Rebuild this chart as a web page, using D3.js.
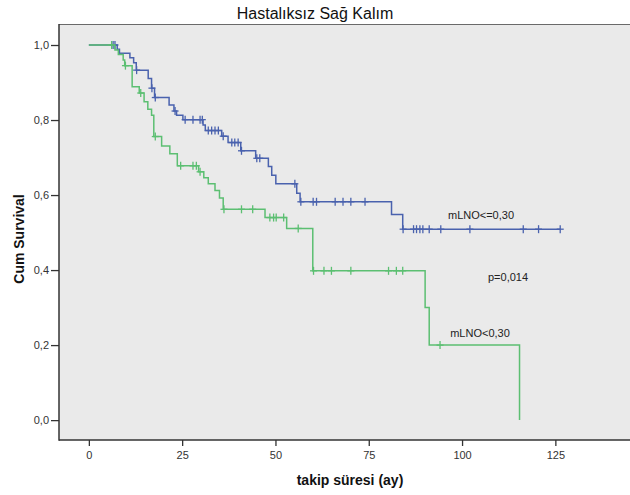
<!DOCTYPE html>
<html>
<head>
<meta charset="utf-8">
<script src="https://cdn.jsdelivr.net/npm/d3@7"></script>
<style>
  html, body { margin: 0; padding: 0; background: #ffffff; }
  svg { display: block; font-family: "Liberation Sans", Arial, sans-serif; }
</style>
</head>
<body>
<svg id="chart" width="630" height="495"></svg>
<script>
// ---- data ----
const title = "Hastalıksız Sağ Kalım";
const xLabel = "takip süresi (ay)";
const yLabel = "Cum Survival";
const xTicks = [0, 25, 50, 75, 100, 125];
const yTicks = [0, 0.2, 0.4, 0.6, 0.8, 1.0];

// group mLNO<=0,30 (blue)
const blueName = "mLNO<=0,30";
const blueEventTimes = [7.6, 8.2, 11.0, 12.0, 12.7, 15.9, 16.8, 17.6, 21.5, 22.8, 23.5, 25.2, 30.6, 31.2, 35.6, 37.3, 40.7, 44.7, 48.1, 49.0, 50.1, 55.7, 56.6, 81.1, 84.1];
const blueEventSurv  = [0.989, 0.978, 0.966, 0.953, 0.933, 0.911, 0.885, 0.860, 0.840, 0.824, 0.813, 0.801, 0.787, 0.772, 0.757, 0.740, 0.718, 0.698, 0.676, 0.653, 0.630, 0.605, 0.582, 0.548, 0.509];
const blueCensor = [6.5, 7.0, 12.8, 16.9, 17.8, 23.1, 25.8, 27.9, 29.8, 30.4, 32.0, 32.9, 33.8, 34.7, 36.0, 38.3, 39.1, 40.0, 40.9, 45.0, 45.8, 55.2, 56.8, 60.1, 61.0, 66.0, 68.1, 70.2, 74.0, 84.2, 87.0, 87.8, 88.7, 89.5, 91.2, 94.3, 102.1, 116.4, 120.5, 126.3];

// group mLNO<0,30 (green)
const greenName = "mLNO<0,30";
const greenEventTimes = [7.0, 7.9, 9.2, 9.6, 11.6, 13.5, 14.8, 15.8, 16.8, 17.4, 19.5, 21.7, 23.7, 29.4, 30.8, 32.0, 33.8, 35.0, 36.0, 47.2, 53.0, 60.0, 90.1, 91.2, 115.4];
const greenEventSurv  = [0.987, 0.975, 0.960, 0.945, 0.889, 0.872, 0.849, 0.829, 0.813, 0.756, 0.731, 0.710, 0.678, 0.662, 0.646, 0.630, 0.612, 0.592, 0.562, 0.540, 0.511, 0.398, 0.300, 0.200, 0.0];
const greenCensor = [6.1, 9.8, 13.9, 17.8, 24.6, 27.9, 28.8, 29.8, 36.2, 40.9, 43.9, 48.5, 49.5, 50.2, 52.2, 56.1, 60.2, 63.0, 65.0, 70.2, 80.3, 82.4, 84.1, 94.1];

const pText = "p=0,014";

// ---- layout ----
const svg = d3.select("#chart");
const plot = { left: 59, right: 630, top: 24, bottom: 440 };
const x = d3.scaleLinear().domain([-8, 145]).range([plot.left, plot.right]);
const y = d3.scaleLinear().domain([-0.053, 1.056]).range([plot.bottom, plot.top]);

const blueColor = "#4a62ae";
const greenColor = "#5cbf72";

// background
svg.append("rect")
  .attr("x", plot.left).attr("y", plot.top)
  .attr("width", plot.right - plot.left).attr("height", plot.bottom - plot.top)
  .attr("fill", "#eaeaea");

// top border
svg.append("line")
  .attr("x1", plot.left).attr("x2", plot.right)
  .attr("y1", plot.top + 0.5).attr("y2", plot.top + 0.5)
  .attr("stroke", "#6a6a6a").attr("stroke-width", 1.2);

// axes
const fmt = d => d3.format(".1f")(d).replace(".", ",");
const yAxis = svg.append("g")
  .attr("transform", `translate(${plot.left},0)`)
  .call(d3.axisLeft(y).tickValues(yTicks).tickFormat(fmt).tickSize(8).tickPadding(2));
const xAxis = svg.append("g")
  .attr("transform", `translate(0,${plot.bottom})`)
  .call(d3.axisBottom(x).tickValues(xTicks).tickFormat(d3.format("d")).tickSize(6).tickPadding(5));

[yAxis, xAxis].forEach(g => {
  g.select(".domain").remove();
  g.selectAll(".tick line").attr("stroke", "#333").attr("stroke-width", 1.3);
  g.selectAll(".tick text").attr("fill", "#333").style("font-size", "11px")
    .style("font-family", "'Liberation Sans', Arial, sans-serif");
});

// left & bottom borders
svg.append("line")
  .attr("x1", plot.left).attr("x2", plot.left)
  .attr("y1", plot.top).attr("y2", plot.bottom + 0.7)
  .attr("stroke", "#333").attr("stroke-width", 1.5);
svg.append("line")
  .attr("x1", plot.left).attr("x2", plot.right)
  .attr("y1", plot.bottom).attr("y2", plot.bottom)
  .attr("stroke", "#333").attr("stroke-width", 1.5);

// ---- KM curves ----
function stepPoints(times, surv, endTime) {
  const pts = [[0, 1]];
  times.forEach((t, i) => pts.push([t, surv[i]]));
  const last = pts[pts.length - 1];
  if (endTime > last[0]) pts.push([endTime, last[1]]);
  return pts;
}
function survAt(times, surv, t) {
  let s = 1;
  times.forEach((tt, i) => { if (tt <= t) s = surv[i]; });
  return s;
}
const line = d3.line().x(d => x(d[0])).y(d => y(d[1])).curve(d3.curveStepAfter);

function drawGroup(times, surv, censor, color) {
  const endT = Math.max(d3.max(times), d3.max(censor));
  svg.append("path")
    .datum(stepPoints(times, surv, endT))
    .attr("d", line)
    .attr("fill", "none")
    .attr("stroke", color)
    .attr("stroke-width", 1.5);
  const g = svg.append("g").attr("stroke", color).attr("stroke-width", 1.3);
  censor.forEach(t => {
    const cx = x(t), cy = y(survAt(times, surv, t));
    g.append("line").attr("x1", cx).attr("x2", cx).attr("y1", cy - 4).attr("y2", cy + 4);
    g.append("line").attr("x1", cx - 3.5).attr("x2", cx + 3.5).attr("y1", cy).attr("y2", cy);
  });
}
drawGroup(blueEventTimes, blueEventSurv, blueCensor, blueColor);
drawGroup(greenEventTimes, greenEventSurv, greenCensor, greenColor);

// ---- texts ----
svg.append("text")
  .attr("x", 315).attr("y", 19)
  .attr("text-anchor", "middle")
  .style("font-size", "16px").attr("fill", "#111")
  .text(title);

svg.append("text")
  .attr("x", 350).attr("y", 485)
  .attr("text-anchor", "middle")
  .style("font-size", "14px").style("font-weight", "bold").attr("fill", "#111")
  .text(xLabel);

svg.append("text")
  .attr("transform", "translate(24,239) rotate(-90)")
  .attr("text-anchor", "middle")
  .style("font-size", "14px").style("font-weight", "bold").attr("fill", "#111")
  .text(yLabel);

svg.append("text")
  .attr("x", 481).attr("y", 219)
  .attr("text-anchor", "middle")
  .style("font-size", "11px").attr("fill", "#222")
  .text(blueName);

svg.append("text")
  .attr("x", 488).attr("y", 281)
  .style("font-size", "11px").attr("fill", "#222")
  .text(pText);

svg.append("text")
  .attr("x", 480).attr("y", 337)
  .attr("text-anchor", "middle")
  .style("font-size", "11px").attr("fill", "#222")
  .text(greenName);
</script>
</body>
</html>
